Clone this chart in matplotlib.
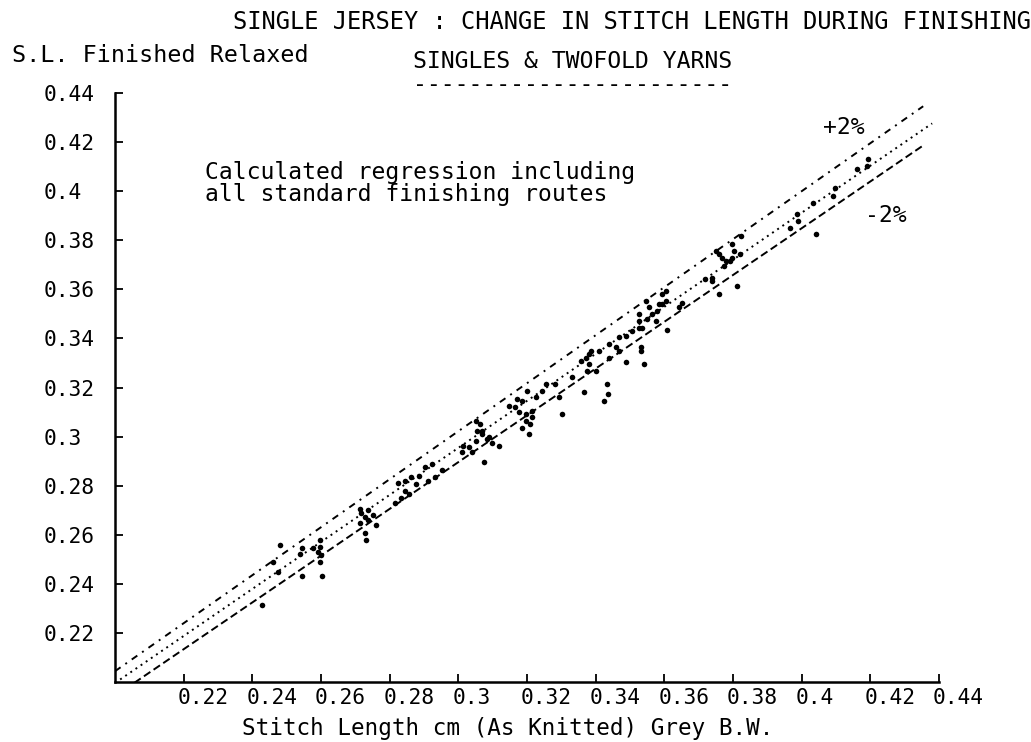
import numpy as np
import matplotlib
matplotlib.use('Agg')
import matplotlib.pyplot as plt
from matplotlib.transforms import ScaledTranslation

# scatter points (grey knitted SL, finished relaxed SL)
sl_grey = [0.2429, 0.2480, 0.2545, 0.2538, 0.2545, 0.2597, 0.2597, 0.2592, 0.2600, 0.2597,
           0.2603, 0.2714, 0.2717, 0.2728, 0.2738, 0.2714, 0.2728, 0.2732, 0.2761, 0.2825,
           0.2845, 0.2863, 0.2855, 0.2834, 0.2816, 0.2884, 0.2903, 0.2922, 0.2913, 0.2933,
           0.2951, 0.3010, 0.3030, 0.3050, 0.3064, 0.3068, 0.3083, 0.3097, 0.3074, 0.3039,
           0.3118, 0.3166, 0.3185, 0.3200, 0.3196, 0.3214, 0.3176, 0.3205, 0.3185, 0.3301,
           0.3243, 0.3254, 0.3050, 0.3068, 0.3088, 0.3214, 0.3210, 0.3225, 0.3283, 0.3366,
           0.3293, 0.3331, 0.3371, 0.3381, 0.3375, 0.3386, 0.3400, 0.3356, 0.3433, 0.3436,
           0.3425, 0.3488, 0.3541, 0.3532, 0.3439, 0.3468, 0.3468, 0.3506, 0.3527, 0.3556,
           0.3565, 0.3576, 0.3594, 0.3527, 0.3527, 0.3546, 0.3605, 0.3609, 0.3652, 0.3740,
           0.3760, 0.3798, 0.3819, 0.3760, 0.3813, 0.3751, 0.3769, 0.3790, 0.3798, 0.3824,
           0.3717, 0.3740, 0.3965, 0.3985, 0.4032, 0.4091, 0.4097, 0.4041, 0.3988, 0.3585,
           0.3605, 0.3594, 0.3532, 0.3644, 0.3381, 0.3410, 0.3439, 0.3459, 0.3488, 0.3536,
           0.4193, 0.4160, 0.4189, 0.3780, 0.2475, 0.2460, 0.3147, 0.3170, 0.3196, 0.3015,
           0.3053, 0.3550, 0.3579, 0.3775, 0.3804, 0.2846, 0.2878, 0.2738, 0.2752, 0.2577]
sl_finished = [0.2313, 0.2560, 0.2431, 0.2523, 0.2545, 0.2577, 0.2550, 0.2530, 0.2516, 0.2489,
               0.2431, 0.2706, 0.2687, 0.2672, 0.2659, 0.2646, 0.2606, 0.2577, 0.2638, 0.2809,
               0.2821, 0.2835, 0.2768, 0.2748, 0.2728, 0.2841, 0.2875, 0.2890, 0.2821, 0.2835,
               0.2862, 0.2936, 0.2957, 0.2984, 0.3052, 0.3012, 0.2992, 0.2972, 0.2898, 0.2936,
               0.2963, 0.3119, 0.3146, 0.3187, 0.3093, 0.3106, 0.3099, 0.3012, 0.3033, 0.3093,
               0.3187, 0.3215, 0.3065, 0.3024, 0.2997, 0.3078, 0.3053, 0.3160, 0.3215, 0.3180,
               0.3160, 0.3241, 0.3322, 0.3297, 0.3268, 0.3350, 0.3268, 0.3309, 0.3215, 0.3175,
               0.3146, 0.3302, 0.3296, 0.3350, 0.3322, 0.3350, 0.3404, 0.3431, 0.3444, 0.3526,
               0.3500, 0.3472, 0.3541, 0.3500, 0.3472, 0.3553, 0.3593, 0.3435, 0.3544, 0.3648,
               0.3744, 0.3729, 0.3744, 0.3581, 0.3614, 0.3756, 0.3729, 0.3715, 0.3785, 0.3817,
               0.3641, 0.3634, 0.3851, 0.3906, 0.3952, 0.3980, 0.4013, 0.3824, 0.3878, 0.3541,
               0.3553, 0.3581, 0.3363, 0.3526, 0.3337, 0.3350, 0.3378, 0.3363, 0.3411, 0.3444,
               0.4130, 0.4092, 0.4102, 0.3715, 0.2448, 0.2488, 0.3126, 0.3154, 0.3065, 0.2963,
               0.3024, 0.3480, 0.3512, 0.3695, 0.3756, 0.2780, 0.2805, 0.2699, 0.2679, 0.2545]

# regression line and the +/-2% limits (end points)
reg_x = [0.2, 0.438]
reg_y = [0.1996, 0.4276]
plus_x = [0.2, 0.4354]
plus_y = [0.2044, 0.4346]
minus_x = [0.2, 0.4359]
minus_y = [0.1943, 0.4191]

ticks = [0.22, 0.24, 0.26, 0.28, 0.3, 0.32, 0.34, 0.36, 0.38, 0.4, 0.42, 0.44]
tick_labels = ['0.22', '0.24', '0.26', '0.28', '0.3', '0.32', '0.34', '0.36', '0.38', '0.4', '0.42', '0.44']

W, H = 1031, 742
plt.rcParams['font.family'] = ['DejaVu Sans Mono']
fig = plt.figure(figsize=(W/100, H/100), dpi=100)
ax = fig.add_axes([115/W, 1-682/H, (939-115)/W, (682-93)/H])

ax.plot(plus_x, plus_y, color='k', lw=1.4, ls=(0, (3.5, 3, 1, 3)))
ax.plot(reg_x, reg_y, color='k', lw=1.4, ls=(0, (1, 2.2)))
ax.plot(minus_x, minus_y, color='k', lw=1.4, ls=(0, (4, 2)))
ax.plot(sl_grey, sl_finished, 'o', color='k', ms=4, mew=0)

ax.set_xlim(0.2, 0.44)
ax.set_ylim(0.2, 0.44)
ax.spines['top'].set_visible(False)
ax.spines['right'].set_visible(False)
ax.spines['left'].set_linewidth(1.8)
ax.spines['bottom'].set_linewidth(1.8)

ax.set_xticks(ticks)
ax.set_xticklabels(tick_labels)
ax.set_yticks(ticks)
ax.set_yticklabels(tick_labels)
ax.tick_params(direction='in', length=6, width=1.3, labelsize=15.3)
ax.tick_params(axis='x', pad=4)
ax.tick_params(axis='y', pad=51.5)
off = ScaledTranslation(-6/100, 0, fig.dpi_scale_trans)
for lab in ax.get_xticklabels():
    lab.set_ha('left')
    lab.set_transform(lab.get_transform() + off)
for lab in ax.get_yticklabels():
    lab.set_ha('left')


def ftxt(px, py, s, size):
    fig.text(px/W, 1-py/H, s, fontsize=size, ha='left', va='center')


ftxt(233, 22, 'SINGLE JERSEY : CHANGE IN STITCH LENGTH DURING FINISHING', 17)
ftxt(12, 55, 'S.L. Finished Relaxed', 16.8)
ftxt(413, 61, 'SINGLES & TWOFOLD YARNS', 16.7)
ftxt(413, 84, '-----------------------', 16.7)
ftxt(205, 172, 'Calculated regression including', 16.6)
ftxt(205, 194, 'all standard finishing routes', 16.6)
ftxt(823, 128, '+2%', 16.6)
ftxt(865, 215, '-2%', 16.6)
ftxt(242, 728, 'Stitch Length cm (As Knitted) Grey B.W.', 16.3)

fig.savefig('out.png', dpi=100)
